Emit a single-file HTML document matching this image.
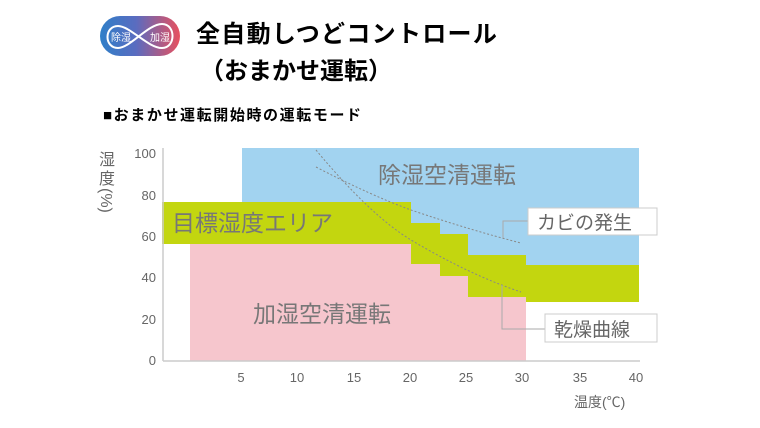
<!DOCTYPE html>
<html><head><meta charset="utf-8"><style>
body{margin:0;background:#fff;width:760px;height:428px;overflow:hidden;font-family:"Liberation Sans","Noto Sans CJK JP",sans-serif}
</style></head><body>
<svg width="760" height="428" viewBox="0 0 760 428" xmlns="http://www.w3.org/2000/svg" style="position:absolute;left:0;top:0;font-family:'Liberation Sans','Noto Sans CJK JP',sans-serif">
<defs><linearGradient id="g" x1="0" x2="1" y1="0" y2="0"><stop offset="0" stop-color="#2f7fc8"/><stop offset="0.45" stop-color="#5a6cc0"/><stop offset="1" stop-color="#e8505e"/></linearGradient></defs>
<rect x="100" y="16" width="80" height="40" rx="20" fill="url(#g)"/>
<path d="M118 26 C104 26 104 48 118 48 C130 48 148 24 162 24 C176 24 176 48 162 48 C148 48 130 26 118 26" fill="none" stroke="#fff" stroke-width="2"/>
<text x="111" y="41" font-size="10" fill="#fff">除湿</text>
<text x="150" y="41" font-size="10" fill="#fff">加湿</text>
<text x="196" y="42" font-size="24" font-weight="bold" fill="#000" letter-spacing="1.3">全自動しつどコントロール</text>
<text x="200" y="79" font-size="24" font-weight="bold" fill="#000">（おまかせ運転）</text>
<text x="103" y="120" font-size="15" font-weight="bold" fill="#000" letter-spacing="1.6">■おまかせ運転開始時の運転モード</text>

<rect x="242" y="148" width="397" height="154" fill="#a2d3f0"/>
<path d="M190 244 H411 V264 H440 V276 H468 V297 H526 V361 H190 Z" fill="#f6c6cd"/>
<path d="M162 202 H411 V223 H440 V234 H468 V255 H526 V265 H639 V302 H526 V297 H468 V276 H440 V264 H411 V244 H162 Z" fill="#c3d60f"/>
<line x1="163" y1="148" x2="163" y2="361" stroke="#ccc" stroke-width="1.5"/>
<line x1="163" y1="361" x2="640" y2="361" stroke="#ccc" stroke-width="1.5"/>
<path d="M316 150 Q370 215 411 240 Q470 275 521 292" fill="none" stroke="#888" stroke-width="1" stroke-dasharray="2,2"/>
<path d="M316 167 Q370 195 411 210 Q470 230 521 243" fill="none" stroke="#888" stroke-width="1" stroke-dasharray="2,2"/>
<polyline points="503,238 503,221 528,221" fill="none" stroke="#aaa" stroke-width="1"/>
<polyline points="502,285 502,329 545,329" fill="none" stroke="#aaa" stroke-width="1"/>
<rect x="528" y="208" width="129" height="27" fill="#fff" stroke="#ccc"/>
<rect x="545" y="314" width="112" height="28" fill="#fff" stroke="#ccc"/>
<g fill="#666" font-size="19"><text x="537" y="229">カビの発生</text><text x="554" y="336">乾燥曲線</text></g>
<g fill="#777" font-size="23"><text x="378" y="183">除湿空清運転</text><text x="172" y="231">目標湿度エリア</text><text x="253" y="322">加湿空清運転</text></g>
<g fill="#666" font-size="13" text-anchor="end"><text x="156" y="158">100</text><text x="156" y="200">80</text><text x="156" y="241">60</text><text x="156" y="282">40</text><text x="156" y="324">20</text><text x="156" y="365">0</text></g>
<g fill="#666" font-size="13" text-anchor="middle"><text x="241" y="382">5</text><text x="297" y="382">10</text><text x="354" y="382">15</text><text x="410" y="382">20</text><text x="466" y="382">25</text><text x="522" y="382">30</text><text x="580" y="382">35</text><text x="636" y="382">40</text></g>
<text x="574" y="407" font-size="14" fill="#666">温度(℃)</text>
<g fill="#666" font-size="16"><text x="99" y="165">湿</text><text x="99" y="184">度</text><text x="0" y="0" transform="translate(101 188) rotate(90)">(%)</text></g>
</svg>
</body></html>
